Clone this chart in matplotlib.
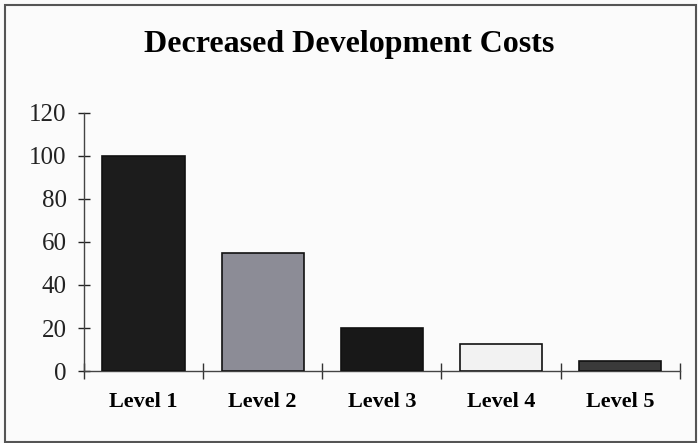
import matplotlib.pyplot as plt
from matplotlib.patches import Rectangle

levels = ["Level 1", "Level 2", "Level 3", "Level 4", "Level 5"]
costs = [100, 55, 20, 12.5, 4.5]
bar_colors = ["#1c1c1c", "#8c8c96", "#181818", "#f2f2f2", "#3a3a3a"]

plt.rcParams["font.family"] = ["Liberation Serif", "DejaVu Serif"]

fig = plt.figure(figsize=(6.98, 4.43), dpi=100, facecolor="#fbfbfb")
ax = fig.add_axes([0.1203, 0.1625, 0.8537, 0.5825])
ax.set_facecolor("#fbfbfb")

x = range(len(levels))
ax.bar(x, costs, width=0.69, color=bar_colors, edgecolor="#111111", linewidth=1.2, zorder=3)

ax.set_xlim(-0.5, 4.5)
ax.set_ylim(0, 120)
ax.set_yticks(range(0, 121, 20))
ax.tick_params(axis="y", direction="inout", length=9, width=1, labelsize=18, pad=8,
               colors="#222222")

# category ticks sit on the boundaries between bars
ax.set_xticks([i - 0.5 for i in range(len(levels) + 1)])
ax.set_xticklabels([])
ax.set_xticks(list(x), minor=True)
ax.set_xticklabels(levels, minor=True, fontsize=16, fontweight="bold")
ax.tick_params(axis="x", which="major", direction="inout", length=12, width=1, color="#333333")
ax.tick_params(axis="x", which="minor", length=0, pad=15)

for side in ("top", "right"):
    ax.spines[side].set_visible(False)
for side in ("left", "bottom"):
    ax.spines[side].set_color("#444444")
    ax.spines[side].set_linewidth(1)

fig.text(0.50, 0.900, "Decreased Development Costs", ha="center", va="center",
         fontsize=23, fontweight="bold")

# outer frame around the chart
fig.patches.append(Rectangle((0.007, 0.003), 0.990, 0.986, transform=fig.transFigure,
                             fill=False, edgecolor="#555555", linewidth=1.5))

fig.savefig("out.png", dpi=100, facecolor=fig.get_facecolor())
